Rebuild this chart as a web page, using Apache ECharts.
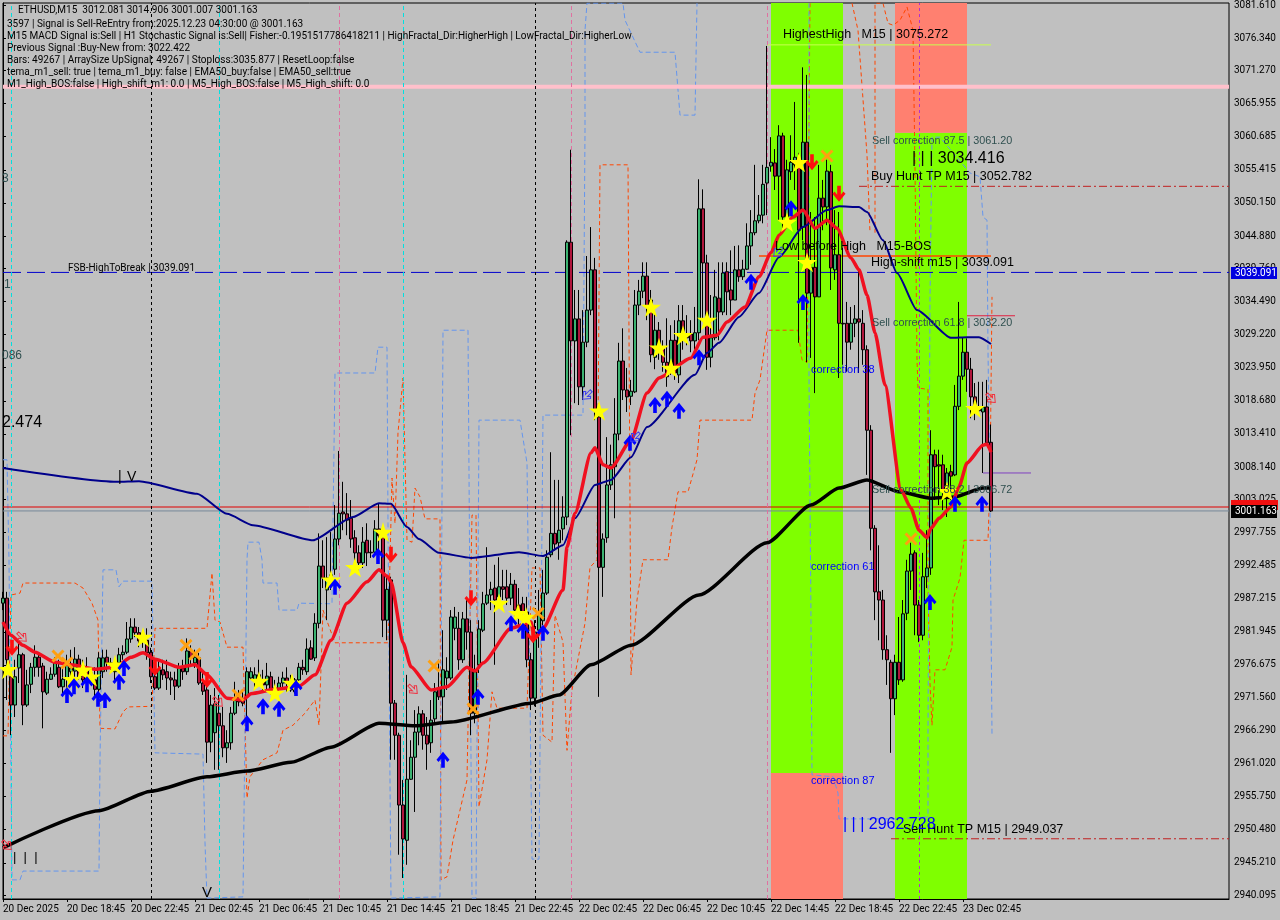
<!DOCTYPE html>
<html><head><meta charset="utf-8"><style>html,body{margin:0;padding:0;background:#c0c0c0}#c{width:1280px;height:920px}</style>
<script src="https://cdn.jsdelivr.net/npm/echarts@6/dist/echarts.min.js"></script></head><body><div id="c"></div><script>
const opens=[2986.5,2987.3,2974.8,2970.3,2976.2,2978.3,2970.3,2973.6,2976.3,2977.9,
2976.5,2972.2,2974.4,2975.2,2976.3,2973.2,2974.4,2975.6,2975.7,2977.6,
2975.9,2976.3,2975.4,2974.3,2972.8,2975.6,2977.9,2977.0,2975.6,2977.0,
2978.3,2978.7,2980.8,2982.7,2981.8,2981.0,2980.6,2978.7,2974.8,2973.0,
2975.9,2975.6,2974.6,2974.3,2973.3,2976.2,2975.6,2978.9,2977.0,2977.8,
2973.8,2972.7,2964.4,2965.9,2969.0,2967.0,2963.5,2964.3,2969.0,2971.6,
2971.1,2971.6,2974.6,2974.3,2975.1,2974.3,2973.5,2974.8,2973.0,2972.8,
2973.8,2974.6,2973.8,2972.4,2974.3,2976.3,2975.6,2979.4,2977.8,2983.3,
2992.4,2988.6,2990.2,2991.9,2996.7,3001.0,3000.7,3000.0,2996.9,2994.5,
2992.9,2996.5,2994.6,2994.6,2998.3,2997.0,2983.8,2990.2,2970.6,2965.5,
2954.4,2948.8,2958.5,2962.0,2966.0,2968.9,2965.5,2964.3,2968.1,2972.8,
2971.6,2974.6,2974.6,2982.5,2982.5,2977.5,2984.0,2981.9,2969.0,2976.7,
2982.2,2986.5,2987.8,2988.9,2987.5,2989.1,2989.1,2987.3,2989.5,2986.2,
2986.4,2985.1,2977.5,2971.4,2982.2,2983.7,2988.1,2994.2,2997.6,2996.1,
2998.3,3000.2,3043.9,3028.2,3031.7,3020.9,3028.0,3033.1,3039.5,3016.1,
2992.2,2996.9,3005.3,3008.2,3013.4,3025.0,3020.4,3019.4,3020.1,3033.9,
3036.1,3038.5,3034.7,3025.6,3029.9,3027.2,3024.8,3023.6,3028.3,3022.8,
3031.4,3029.1,3029.3,3028.2,3029.5,3049.2,3040.6,3025.6,3028.7,3035.0,
3032.8,3039.2,3036.3,3034.7,3039.5,3038.4,3039.6,3043.3,3045.4,3047.3,
3048.2,3053.3,3056.0,3056.5,3054.4,3060.8,3047.9,3055.1,3056.2,3056.5,
3046.3,3059.8,3035.8,3039.9,3035.2,3050.9,3049.5,3055.1,3039.5,3041.9,
3031.0,3031.0,3028.0,3031.0,3031.7,3031.0,3026.8,3014.0,2998.4,2988.3,
2987.0,2979.1,2977.1,2971.3,2977.1,2974.3,2984.9,2991.6,2994.5,2986.2,
2981.4,2990.7,2992.1,3010.1,3008.5,3008.5,3005.0,3007.4,3006.9,3017.8,
3022.6,3026.4,3023.7,3019.3,3017.5,3016.9,3017.7,3012.081];
const closes=[2987.3,2977.5,2970.3,2974.8,2978.3,2970.3,2973.5,2976.3,2977.9,2976.3,
2972.4,2974.4,2975.2,2977.1,2973.2,2974.4,2976.7,2976.2,2977.6,2974.8,
2974.3,2974.0,2974.0,2972.8,2977.8,2977.8,2977.0,2976.5,2976.7,2978.3,
2978.7,2980.8,2982.7,2981.8,2980.5,2980.6,2978.6,2974.8,2973.0,2975.9,
2975.1,2974.6,2974.3,2973.3,2976.3,2975.6,2978.9,2977.8,2977.9,2973.8,
2972.5,2964.4,2970.3,2970.5,2967.0,2963.5,2964.3,2969.0,2971.1,2970.8,
2970.6,2975.6,2975.6,2975.1,2974.3,2973.5,2974.9,2972.8,2972.7,2973.8,
2974.6,2973.8,2972.7,2974.3,2976.3,2975.9,2979.2,2977.6,2983.3,2992.4,
2990.5,2990.5,2991.0,2996.7,3000.8,3000.7,2999.7,2996.7,2994.5,2992.9,
2996.2,2994.5,2994.5,2998.3,2997.2,2983.8,2988.7,2970.6,2965.5,2954.4,
2949.0,2958.5,2962.0,2966.0,2968.9,2965.5,2964.1,2967.9,2972.4,2971.6,
2975.9,2975.7,2984.3,2984.3,2977.5,2984.0,2981.9,2969.0,2975.6,2982.4,
2986.4,2987.8,2988.7,2987.0,2989.1,2988.7,2987.3,2989.5,2985.4,2984.1,
2985.1,2977.5,2971.4,2981.9,2985.1,2988.1,2993.8,2997.6,2995.9,2998.1,
3000.2,3043.9,3028.2,3031.7,3020.9,3028.0,3033.1,3039.5,3017.2,2992.2,
2996.7,3005.3,3008.5,3013.4,3025.0,3020.4,3019.3,3020.2,3033.9,3036.1,
3038.5,3033.6,3026.0,3029.9,3027.2,3024.8,3022.5,3028.3,3023.1,3031.4,
3028.7,3028.7,3028.2,3029.5,3049.2,3040.6,3025.6,3028.7,3035.2,3032.8,
3039.0,3036.0,3034.7,3039.5,3038.4,3039.6,3043.3,3045.4,3047.3,3048.2,
3053.1,3055.8,3056.6,3054.4,3060.8,3047.9,3055.4,3056.6,3057.4,3045.8,
3059.8,3035.8,3039.9,3035.2,3050.9,3049.5,3055.2,3039.8,3041.9,3031.0,
3030.9,3028.0,3031.0,3031.7,3031.2,3026.8,3014.0,2998.4,2988.3,2987.0,
2979.1,2977.5,2971.3,2977.1,2974.3,2984.8,2991.6,2994.3,2986.2,2981.4,
2990.7,2992.1,3010.1,3008.2,3008.3,3004.5,3007.2,3006.7,3017.8,3022.6,
3026.4,3023.7,3019.3,3017.5,3017.1,3017.7,3012.0,3001.163];
const lows=[2985.4,2971.1,2965.5,2968.4,2973.8,2967.1,2970.0,2972.2,2974.8,2974.8,
2966.6,2971.9,2974.3,2974.8,2973.0,2972.2,2972.7,2974.3,2974.8,2974.3,
2973.0,2973.2,2973.5,2971.4,2971.4,2974.6,2975.6,2975.9,2974.0,2975.9,
2977.5,2978.4,2980.2,2981.1,2979.5,2979.4,2977.5,2973.8,2972.7,2972.7,
2974.3,2972.7,2971.9,2971.1,2973.0,2974.3,2975.1,2976.7,2976.2,2973.5,
2971.9,2961.1,2962.8,2960.0,2960.0,2962.0,2961.1,2963.2,2968.7,2970.1,
2970.1,2966.6,2974.3,2973.2,2973.5,2972.7,2972.7,2971.9,2971.7,2972.2,
2973.0,2972.4,2972.4,2972.1,2973.8,2975.1,2975.1,2977.5,2977.3,2982.5,
2988.9,2983.8,2988.6,2991.0,2995.7,2998.1,2997.3,2995.3,2991.8,2991.0,
2992.1,2992.4,2993.7,2994.0,2993.0,2981.1,2980.6,2961.6,2961.6,2946.5,
2942.8,2944.9,2958.4,2953.3,2963.9,2963.2,2960.0,2962.7,2967.6,2971.1,
2967.6,2972.7,2974.3,2980.6,2975.9,2977.0,2979.1,2965.5,2967.4,2975.4,
2981.9,2986.2,2985.4,2976.7,2985.7,2987.0,2986.2,2986.2,2983.8,2983.0,
2982.5,2976.3,2969.5,2970.1,2979.4,2983.0,2987.8,2993.8,2994.9,2993.4,
2996.5,2998.9,3013.2,3018.3,3018.0,3018.8,3027.2,3032.3,3015.6,2971.6,
2987.5,2996.1,3004.5,3000.0,3012.4,3018.8,3016.9,3018.0,3019.9,3032.3,
3035.0,3031.5,3024.8,3023.7,3025.2,3023.3,3020.9,3022.8,3022.0,3021.5,
3026.8,3027.5,3026.4,3026.8,3028.3,3031.5,3023.6,3024.0,3028.3,3028.3,
3032.3,3032.3,3032.3,3034.7,3037.6,3037.9,3039.5,3040.3,3045.0,3046.9,
3046.9,3048.2,3055.1,3052.2,3047.4,3046.1,3046.6,3053.8,3052.2,3027.9,
3044.2,3024.8,3025.5,3019.9,3035.2,3045.8,3046.6,3036.3,3037.9,3022.3,
3024.4,3023.3,3026.8,3028.8,3023.1,3024.4,3006.9,2994.9,2983.8,2980.6,
2977.5,2973.5,2962.7,2968.7,2973.5,2974.0,2983.8,2988.6,2981.4,2980.3,
2980.6,2988.9,2991.0,3002.9,3002.1,3001.3,3000.2,3002.9,3006.7,3017.2,
3022.0,3020.1,3015.9,3015.6,3016.4,3007.2,3011.8,3001.007];
const highs=[2988.3,2988.3,2976.3,2977.5,2980.2,2978.6,2975.9,2977.0,2979.8,2978.6,
2977.0,2975.6,2976.3,2977.9,2977.5,2976.3,2978.3,2979.1,2979.5,2978.3,
2977.5,2977.9,2976.3,2976.3,2978.7,2979.1,2979.1,2977.8,2977.5,2979.4,
2979.8,2983.5,2984.1,2984.1,2982.7,2982.2,2982.5,2979.4,2977.0,2977.5,
2977.5,2977.5,2975.6,2975.6,2977.0,2977.5,2980.9,2979.8,2979.1,2978.6,
2975.6,2973.5,2971.9,2973.0,2971.9,2970.0,2966.3,2970.0,2974.0,2972.7,
2972.7,2976.3,2976.3,2976.3,2977.5,2975.9,2977.0,2975.6,2974.3,2974.8,
2975.6,2976.3,2975.1,2974.6,2977.0,2977.5,2980.9,2980.6,2984.9,2997.6,
2996.5,2997.0,2997.8,3002.1,3010.7,3005.8,3004.0,3002.9,2998.1,2995.7,
2998.6,2999.2,2996.5,2999.7,3002.4,2998.1,2990.7,2990.7,2971.1,2965.9,
2958.4,2975.1,2964.7,2969.5,2970.1,2969.5,2968.4,2971.1,2973.8,2977.5,
2982.2,2977.9,2985.4,2985.9,2985.1,2985.1,2987.0,2983.8,2978.3,2983.8,
2988.3,2995.4,2989.9,2992.6,2993.8,2991.8,2991.8,2991.3,2990.2,2988.9,
2987.5,2987.5,2978.6,2983.8,2988.6,2991.8,2994.9,3010.5,3006.1,3006.1,
3003.5,3044.2,3058.6,3036.3,3036.3,3033.1,3041.7,3046.3,3041.4,3017.2,
2997.6,3012.9,3011.7,3019.1,3027.9,3030.2,3023.9,3022.0,3036.3,3037.9,
3040.7,3040.7,3036.3,3032.8,3031.2,3028.3,3031.8,3030.7,3031.5,3033.9,
3033.9,3032.3,3031.5,3033.6,3053.9,3052.3,3041.9,3035.5,3039.5,3040.7,
3040.7,3040.7,3042.6,3043.3,3043.4,3041.1,3046.9,3049.0,3056.2,3051.4,
3056.2,3075.1,3060.6,3058.7,3062.5,3061.3,3057.0,3060.9,3066.2,3058.1,
3071.7,3070.5,3048.7,3047.9,3056.2,3053.8,3057.0,3056.2,3049.0,3048.7,
3043.0,3034.4,3033.6,3033.9,3039.5,3033.1,3027.5,3014.8,2998.9,2995.7,
2988.6,2981.4,2977.5,2978.3,2984.3,2987.0,2993.4,2996.1,2994.9,2987.0,
2994.5,2998.1,3014.0,3010.9,3010.9,3010.1,3008.0,3008.5,3021.2,3034.4,
3028.8,3028.6,3025.5,3021.5,3021.7,3021.7,3022.0,3014.906];
const priceTicks=[3081.610,3076.340,3071.270,3065.955,3060.685,3055.415,3050.150,3044.880,3039.760,3034.490,3029.220,3023.950,3018.680,3013.410,3008.140,3003.025,2997.755,2992.485,2987.215,2981.945,2976.675,2971.560,2966.290,2961.020,2955.750,2950.480,2945.210,2940.095];
const timeLabels=["20 Dec 2025","20 Dec 18:45","20 Dec 22:45","21 Dec 02:45","21 Dec 06:45","21 Dec 10:45","21 Dec 14:45","21 Dec 18:45","21 Dec 22:45","22 Dec 02:45","22 Dec 06:45","22 Dec 10:45","22 Dec 14:45","22 Dec 18:45","22 Dec 22:45","23 Dec 02:45"];
const emaSlow=[[0,2947.6],[24,2953.5],[37,2956.6],[51,2958.9],[61,2959.8],[72,2961.2],[82,2963.6],[94,2967.4],[103,2967.0],[112,2967.6],[132,2970.6],[139,2971.9],[147,2976.7],[157,2979.8],[174,2987.8],[191,2996.1],[202,3002.1],[209,3004.8],[216,3006.1],[224,3004.2],[232,3003.2],[238,3003.4],[245,3004.8],[247,3004.8]];
const emaMid=[[0,3008.0],[28.5,3005.8],[34,3005.9],[48.5,3003.9],[56,3000.7],[62.5,2998.9],[77.5,2996.5],[87.5,3000.2],[94,3002.4],[97,3002.3],[101,2998.6],[104,2996.7],[109,2994.5],[117,2993.7],[129,2994.6],[135,2994.0],[140,2995.7],[143,3000.0],[148,3005.3],[152,3006.1],[157,3009.7],[161,3014.5],[173,3022.8],[176,3026.3],[179,3027.9],[184,3032.0],[189,3035.8],[194,3041.5],[200,3046.3],[206,3049.0],[209,3049.6],[214,3049.5],[216,3048.7],[220,3044.2],[223.5,3039.0],[228.5,3033.1],[237,3028.7],[241,3028.8],[244,3028.8],[247,3027.7]];
const tema=[[0,2983.5],[2,2981.4],[5,2979.8],[8,2978.7],[13,2977.1],[17,2976.7],[23,2976.0],[28,2976.3],[32,2977.9],[35,2978.6],[38,2977.6],[44,2976.3],[48,2976.7],[51,2975.1],[56,2971.4],[60,2971.1],[62,2972.1],[68,2972.8],[74,2973.3],[78,2975.1],[82,2980.6],[86,2986.5],[91,2989.9],[94,2991.8],[96,2990.8],[97,2989.9],[100,2980.2],[102,2976.4],[107,2972.7],[111,2973.2],[116,2976.3],[118,2975.7],[120,2977.0],[127,2982.5],[132,2983.5],[133,2980.9],[135,2982.5],[140,2988.6],[141,2995.4],[143,3000.8],[147,3010.4],[148,3011.2],[150,3008.5],[152,3008.0],[157,3012.4],[161,3019.9],[164,3022.3],[172,3025.5],[175,3028.8],[178.5,3029.1],[181,3031.2],[185.5,3033.6],[189,3038.4],[192,3042.2],[194,3045.0],[197.5,3047.9],[200,3049.0],[203,3046.1],[206,3047.4],[208.5,3046.1],[212,3041.4],[214,3039.5],[216,3035.5],[218,3029.5],[220.5,3021.2],[224.5,3004.5],[227,3001.6],[229,2998.1],[231,2996.9],[232,2998.4],[234,3000.0],[237,3001.8],[239,3005.0],[241,3008.8],[245,3011.6],[246,3011.8],[247,3010.5]];
const orangeA=[[0,2965.4],[1.25,2965.4],[2,2987.8],[4.25,2988.1],[5,2989.7],[18,2989.7],[20,2988.9],[22.25,2986.5],[23.75,2983.8],[24.25,2966.6],[28,2966.5],[30,2969.2],[31.25,2970.0],[37.25,2970.1],[38,2982.5],[51,2982.5],[52.25,2991.3],[53,2983.8],[54.25,2983.5],[56,2979.5],[60,2979.5],[61,2955.5],[61.75,2958.9],[65,2961.6],[68.5,2962.7],[70,2966.3],[72.5,2967.1],[75.5,2969.0],[78,2971.1],[79,2967.1],[80,2985.4],[83,2980.2],[96.25,2980.2],[97.25,3006.4],[98,2999.2],[98.75,3013.6],[100,3022.3],[101,2996.5],[102.25,2996.2],[103,3004.8],[104.25,3003.4],[105.5,2999.9],[109.25,2999.9],[109.5,2942.5],[111,2943.0],[112.5,2948.8],[116,2958.4],[117.25,3000.5],[118.25,3000.5],[119,2954.1],[121,2961.6],[122.25,2972.4],[123.5,2969.8],[131,2969.8],[132.25,2992.1],[134.25,2992.1],[135,2965.5],[137.25,2964.4],[138,2984.6],[140,2980.3],[141,2963.1],[141.75,2969.0],[142.25,2972.7],[145.5,2983.3],[146.75,2992.2],[148.5,2993.4],[149.25,3056.2],[156.25,3056.2],[157,2975.1],[158.5,2987.0],[160,2993.4],[166.25,2993.4],[167.25,2998.6],[168.75,3004.2],[171.25,3004.2],[173.5,3009.3],[174.25,3015.6],[187.25,3015.6],[188,3019.9],[189.25,3022.0],[191,3029.9],[198.75,3029.9],[199.75,3025.2],[201,3024.8],[201.75,3081.9]];
const orangeB=[[212.25,3081.9],[213.75,3077.6],[216,3057.8],[216.75,3045.4]];
const orangeC=[[218,3045.4],[218,3081.9],[220,3081.9],[221.25,3078.7],[222.5,3078.4],[224.25,3079.2],[226,3081.3],[227.5,3077.6],[228,3055.8],[228.5,3025.2],[228.75,3020.7],[231.25,3020.5],[231.25,2989.7],[231.75,2973.8],[232.25,2967.1],[233,2975.9],[235.5,2975.9],[237.25,2979.5],[237.5,2987.0],[239.25,2990.5],[240.25,2996.5],[246.25,2996.5],[246.75,3005.6],[247.25,3035.2]];
const blueA=[[0,3009.3],[1,3009.3],[1.5,2993.4],[2.25,2942.5],[4.25,2942.5],[5,2943.9],[24,2943.9],[24.25,2961.6],[25,2991.8],[28.25,2991.8],[29,2989.1],[30,2990.0],[37.25,2990.0],[38,2962.7],[50,2962.5],[50.5,2948.4],[51,2939.6],[60,2939.8],[61,2993.4],[61.25,2996.2],[64,2996.2],[64.75,2993.4],[65,2989.7],[68.5,2989.7],[69,2985.4],[73.5,2985.4],[74,2986.5],[82.25,2986.4],[82.5,2999.2],[83,3023.1],[93,3023.1],[93.75,3027.2],[96,3027.2],[96.25,2999.2],[96.75,2958.4],[97,2939.6],[109.25,2939.8],[109.75,3002.9],[110,3029.9],[116.25,3029.9],[117.25,2939.6],[118.25,2939.6],[119,3015.6],[129.25,3015.6],[131,3008.8],[132.25,2945.8],[134,2945.8],[135,3016.4],[145,3016.4],[145.5,3061.7],[145.5,3077.6],[146,3081.9],[155,3081.9],[155.5,3079.2],[159.25,3074.1],[168,3074.1],[169.25,3064.1],[173,3064.1],[173.5,3081.9]];
const blueB=[[201.5,3081.9],[201.5,3022.5],[202,2983.8],[202.25,2959.2],[207.5,2958.9],[208.75,2956.3],[209,2952.2],[223,2952.2],[231.25,2952.5],[231.25,2965.8],[231.75,3034.7],[232.25,3060.6],[234.25,3060.6],[241.75,3054.9],[244.25,3054.3],[245,3047.9],[246,3047.4],[246.25,3026.7],[246.75,3002.9],[247.25,2965.5]];
const stars=[[1.25,2976.0],[17.25,2974.4],[20,2975.9],[22,2974.8],[28,2976.7],[35,2981.1],[64,2974.1],[68,2972.2],[72.25,2973.8],[82,2990.2],[88,2992.2],[95,2997.8],[124,2986.5],[128.75,2984.9],[130.75,2984.3],[149,3017.1],[162,3033.6],[164,3027.1],[167,3023.9],[170,3029.1],[176,3031.5],[196,3047.1],[199,3056.6],[201,3040.7],[236,3004.3],[243,3017.5]];
const crosses=[[13.75,2978.1],[16,2977.0],[45.75,2979.8],[48,2978.4],[58.75,2971.9],[107.75,2976.5],[117.5,2969.7],[133.75,2984.9],[206,3057.6],[227,2996.7]];
const upArrows=[[16,2971.9],[17.75,2973.3],[21,2973.6],[23.75,2971.3],[25.5,2971.1],[29,2974.0],[30.25,2976.2],[61,2967.4],[65,2970.1],[69,2969.7],[73.25,2973.0],[83,2989.1],[93.75,2994.0],[110,2961.6],[118.75,2971.6],[127,2983.3],[130,2982.1],[135,2981.8],[156.75,3012.0],[163,3018.0],[166,3019.0],[169,3017.1],[174,3025.6],[187,3037.6],[197,3049.3],[200,3034.4],[231.75,2986.7],[238,3002.3],[244.75,3002.3]];
const downArrows=[[2.25,2979.4],[38,2976.2],[51,2974.3],[97,2994.2],[117,2987.3],[132.5,2981.4],[202.25,3056.6],[209,3051.6]];
const hollowRed=[[4.75,2981.1],[53.75,2970.8],[102.5,2972.8],[1,2948.0],[247,3019.1]];
const hollowBlue=[[146,3019.6],[158,3012.9],[193.75,3042.3]];
const vCyan=[2,54,100], vPink=[84,142,191], vBlack=[37,133], vPurple=[229];
const greenZones=[[192,210,2959.5,3081.93],[223,241,2939.46,3061.3]];
const salmonZones=[[192,210,2939.46,2959.5],[223,241,3061.3,3081.93]];

const STAR='path://M50 0 L61 35 L98 35 L68 57 L79 91 L50 70 L21 91 L32 57 L2 35 L39 35 Z';
const CROSS='path://M0 16 L16 0 L50 34 L84 0 L100 16 L66 50 L100 84 L84 100 L50 66 L16 100 L0 84 L34 50 Z';
const ARROW='path://M50 0 L100 50 L84 64 L64 44 L64 100 L36 100 L36 44 L16 64 L0 50 Z';
const candleData=opens.map((o,i)=>[i,o,closes[i],lows[i],highs[i]]);
const timeTicks=timeLabels.map((_,i)=>i*16);
function thin(name,data,color,type,w){return {name,type:'line',data,symbol:'none',lineStyle:{color,width:w||1,type:type||[4,3]},z:3,silent:true};}
function marks(name,data,sym,size,color,z,rot,extra){return {name,type:'scatter',data,symbol:sym,symbolSize:size,symbolRotate:rot||0,itemStyle:Object.assign({color,opacity:1},extra||{}),z:z||6,silent:true};}
function vlines(name,vals,color,type){return {name,type:'line',data:[],markLine:{silent:true,symbol:'none',label:{show:false},animation:false,lineStyle:{color,type,width:1},data:vals.map(v=>({xAxis:v}))},z:2};}
function hline(name,price,from,to,color,type,w){return {name,type:'line',data:[[from,price],[to,price]],symbol:'none',lineStyle:{color,type:type||'solid',width:w||1},z:4,silent:true};}
const grayText='#2f4f4f';
const SMALL='"Liberation Sans", Arial, sans-serif';
const UI='Roboto, "Liberation Sans", sans-serif';
const HDR=10;
const texts=[
["ETHUSD,M15  3012.081 3014.906 3001.007 3001.163",18,10.5,'#000',HDR,UI],
["3597 | Signal is Sell-ReEntry from:2025.12.23 04:30:00 @ 3001.163",7,24,'#000',HDR,UI],
["M15 MACD Signal is:Sell | H1 Stochastic Signal is:Sell| Fisher:-0.1951517786418211 | HighFractal_Dir:HigherHigh | LowFractal_Dir:HigherLow",7,36,'#000',HDR,UI],
["Previous Signal :Buy-New from: 3022.422",7,48,'#000',HDR,UI],
["Bars: 49267 | ArraySize UpSignal: 49267 | Stoploss:3035.877 | ResetLoop:false",7,60,'#000',HDR,UI],
["tema_m1_sell: true | tema_m1_buy: false | EMA50_buy:false | EMA50_sell:true",7,72,'#000',HDR,UI],
["M1_High_BOS:false | High_shift_m1: 0.0 | M5_High_BOS:false | M5_High_shift: 0.0",7,84,'#000',HDR,UI],
["FSB-HighToBreak | 3039.091",68,268,'#000',HDR,UI],
["3",2,179,grayText,12],["1",4,285,grayText,12],["086",2,356,grayText,12],["2.474",2,423,'#000',16],
["|",118,477,'#000',14],["V",127,477,'#000',14],
["|  |  |",13,857,'#000',13],["V",202,893,'#000',15],
["HighestHigh   M15 | 3075.272",783,35,'#000',12.5],
["Low before High   M15-BOS",775,247,'#000',12.5],
["High-shift m15 | 3039.091",871,263,'#000',12.5],
["Buy Hunt TP M15 | 3052.782",871,177,'#000',12.5],
["Sell Hunt TP M15 | 2949.037",903,830,'#000',12.5],
["Sell correction 87.5 | 3061.20",872,141,grayText,10.8],
["Sell correction 61.8 | 3032.20",872,323,grayText,10.8],
["Sell correction 38.2 | 3006.72",872,490,grayText,10.8],
["| | | 3034.416",912,159,'#000',16],
["| | | 2962.728",843,825,'#0000ff',16],
["correction 38",811,370,'#0000ff',11],["correction 61",811,567,'#0000ff',11],["correction 87",811,781,'#0000ff',11]
];
const graphics=[
{type:'rect',shape:{x:1231,y:500,width:47,height:10},style:{fill:'#f01010'},z:50},
{type:'rect',shape:{x:1231,y:505,width:46,height:13},style:{fill:'#000'},z:51},
{type:'text',style:{text:'3001.163',x:1235,y:511.5,fill:'#fff',font:HDR+'px '+UI,verticalAlign:'middle'},z:52},
{type:'rect',shape:{x:1231,y:267,width:46,height:12},style:{fill:'#0000e0'},z:51},
{type:'text',style:{text:'3039.091',x:1235,y:273,fill:'#fff',font:HDR+'px '+UI,verticalAlign:'middle'},z:52}
].concat(texts.map(t=>({type:'text',style:{text:t[0],x:t[1],y:t[2],fill:t[3],font:t[4]+'px '+(t[5]||SMALL),verticalAlign:'middle'},z:40})));
const chart=echarts.init(document.getElementById('c'),null,{renderer:'canvas'});
chart.setOption({animation:false,backgroundColor:'#c0c0c0',
grid:{left:3,right:51,top:3,bottom:21,outerBoundsMode:'none',containLabel:false,show:true,backgroundColor:'#c0c0c0',borderColor:'#000',borderWidth:1},
xAxis:{type:'value',min:0,max:306.5,interval:16,splitLine:{show:false},axisLine:{show:true,lineStyle:{color:'#000'}},axisTick:{length:3,lineStyle:{color:'#000'},customValues:timeTicks},
 axisLabel:{showMaxLabel:false,hideOverlap:false,align:'left',margin:5,color:'#000',fontSize:HDR,fontFamily:UI,formatter:v=>timeLabels[v/16]||''}},
yAxis:{type:'value',position:'right',min:2939.46,max:3081.93,scale:true,splitLine:{show:false},axisLine:{show:true,lineStyle:{color:'#000'}},
 axisTick:{show:true,length:3,lineStyle:{color:'#000'},customValues:priceTicks},
 axisLabel:{customValues:priceTicks,margin:5,color:'#000',fontSize:HDR,fontFamily:UI,formatter:v=>v.toFixed(3)}},
series:[
{name:'zones',type:'line',data:[],z:1,markArea:{silent:true,animation:false,data:
 greenZones.map(z=>[{xAxis:z[0],yAxis:z[2],itemStyle:{color:'#7fff00',opacity:1}},{xAxis:z[1],yAxis:z[3]}]).concat(
 salmonZones.map(z=>[{xAxis:z[0],yAxis:z[2],itemStyle:{color:'#ff8070',opacity:1}},{xAxis:z[1],yAxis:z[3]}]))}},
vlines('cyan',vCyan,'#00e0e0',[4,3]),vlines('pink',vPink,'#e070a0',[4,3]),vlines('black',vBlack,'#000',[3,3]),vlines('purple',vPurple,'#b030d0',[3,3]),
hline('pinkLevel',3068.6,0,306.5,'#ffc0cb','solid',4),
thin('orangeA',orangeA,'#ff4500',[4,3]),thin('orangeB',orangeB,'#ff4500',[4,3]),thin('orangeC',orangeC,'#ff4500',[4,3]),
thin('blueA',blueA,'#6495ed',[5,3]),thin('blueB',blueB,'#6495ed',[5,3]),
{name:'ETHUSD',type:'candlestick',data:candleData,encode:{x:0,y:[1,2,3,4]},barWidth:3,z:5,silent:true,
 itemStyle:{color:'#3cb371',color0:'#b0163c',borderColor:'#000',borderColor0:'#000',borderWidth:1}},
hline('fsb',3039.091,0,306.5,'#0000cd',[18,6]),
hline('bid',3001.163,0,306.5,'#778899'),
hline('ask',3001.79,0,306.5,'#e00000'),
hline('highest',3075.272,191,247,'#c8ff50'),
hline('lowBefore',3041.7,189,247,'#ff4500','solid',1.5),
hline('buyTP',3052.782,214,306.5,'#c02020',[8,3,2,3]),
hline('sellTP',2949.037,222,306.5,'#c02020',[8,3,2,3]),
hline('c618',3032.2,241,253,'#e02040'),
hline('purpleLevel',3007.2,245,257,'#8040c0'),
{name:'emaSlow',type:'line',data:emaSlow,smooth:0.2,smoothMonotone:'x',symbol:'none',lineStyle:{color:'#000',width:3.5},z:7,silent:true},
{name:'emaMid',type:'line',data:emaMid,smooth:0.2,smoothMonotone:'x',symbol:'none',lineStyle:{color:'#00008b',width:2},z:7,silent:true},
{name:'tema',type:'line',data:tema,smooth:0.2,smoothMonotone:'x',symbol:'none',lineStyle:{color:'#f01020',width:3.5},z:8,silent:true},
marks('stars',stars,STAR,20,'#ffff00',9),
marks('crosses',crosses,CROSS,13,'#ffa010',9),
marks('up',upArrows,ARROW,[13,16],'#0000ff',9),
marks('down',downArrows,ARROW,[13,16],'#ff1010',9,180),
marks('hollowRed',hollowRed,ARROW,[10,12],'none',9,-135,{borderColor:'#f03040',borderWidth:1}),
marks('hollowBlue',hollowBlue,ARROW,[10,12],'none',9,135,{borderColor:'#4040f0',borderWidth:1})
],graphic:graphics});
</script></body></html>
